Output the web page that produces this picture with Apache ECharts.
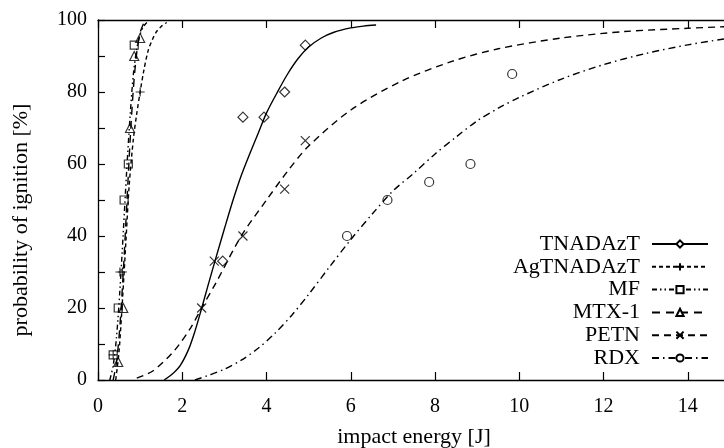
<!DOCTYPE html>
<html>
<head>
<meta charset="utf-8">
<script src="https://cdn.jsdelivr.net/npm/echarts@6/dist/echarts.min.js"></script>
<style>
  html, body { margin: 0; padding: 0; background: #fff; }
  #chart { width: 724px; height: 448px; }
</style>
</head>
<body>
<div id="chart"></div>
<script>
// Measured drop-test points: impact energy [J] vs probability of ignition [%]
const tnadaztE = [2.96, 3.44, 3.94, 4.43, 4.92];
const tnadaztP = [33, 73, 73, 80, 93];
const agTnadaztE = [0.36, 0.52, 0.58, 1.0];
const agTnadaztP = [7, 30, 30, 80];
const mfE = [0.36, 0.48, 0.62, 0.72, 0.86];
const mfP = [7, 20, 50, 60, 93];
const mtxE = [0.48, 0.6, 0.76, 0.86, 1.0];
const mtxP = [5, 20, 70, 90, 95];
const petnE = [2.46, 2.76, 3.44, 4.43, 4.92];
const petnP = [20, 33, 40, 53, 66.5];
const rdxE = [5.91, 6.87, 7.86, 8.84, 9.83];
const rdxP = [40, 50, 55, 60, 85];

// Fitted ignition-probability curves, sampled along each line
const tnadaztFitE = [1.57, 1.75, 1.95, 2.15, 2.3, 2.45, 2.6, 2.8, 3.0, 3.2, 3.4, 3.6, 3.8, 4.0, 4.25, 4.5, 4.75, 5.0, 5.3, 5.6, 6.0, 6.3, 6.6];
const tnadaztFitP = [0, 1.5, 4, 8.5, 13.5, 19.5, 25.8, 34, 42, 49.8, 56.8, 62.8, 68.5, 74.2, 79.8, 85, 89.3, 92.5, 95, 96.6, 97.8, 98.3, 98.6];
const agTnadaztFitE = [0.42, 0.5, 0.58, 0.66, 0.74, 0.84, 0.92, 1.0, 1.08, 1.19, 1.3, 1.39, 1.5, 1.63];
const agTnadaztFitP = [0, 8, 22, 38, 54, 67, 74, 80, 85.5, 91.5, 94.8, 96.8, 98.2, 99.3];
const mfFitE = [0.28, 0.36, 0.44, 0.52, 0.6, 0.68, 0.76, 0.84, 0.92, 1.0, 1.08, 1.16];
const mfFitP = [0, 4, 12, 25, 41, 58, 73, 85, 92, 96, 98.2, 99.3];
const mtxFitE = [0.36, 0.44, 0.52, 0.6, 0.68, 0.76, 0.84, 0.92, 1.0, 1.08];
const mtxFitP = [0, 5, 15, 30, 48, 66, 81, 91, 96.5, 99];
const petnFitE = [0.92, 1.3, 1.8, 2.2, 2.46, 2.8, 3.4, 4.0, 4.5, 5.0, 6.0, 7.2, 8.4, 9.5, 11, 12.5, 14, 15];
const petnFitP = [0.5, 2.5, 8, 14.5, 20, 27, 40, 50, 58, 65, 75, 83, 88.5, 92, 95, 96.8, 97.7, 98.2];
const rdxFitE = [2.3, 2.6, 3.0, 3.4, 3.8, 4.2, 4.6, 5.0, 5.5, 6.0, 6.5, 7.0, 7.5, 8.0, 8.5, 9.0, 9.5, 10, 11, 12, 13, 14, 15];
const rdxFitP = [0, 1.2, 3, 5.5, 8.8, 13, 18, 23.8, 31.5, 39, 46, 52.5, 57.5, 62.8, 67.5, 72, 75.5, 78.5, 83.6, 87.6, 90.7, 93.1, 95];

// Axis tick values
const xTicks = [0, 2, 4, 6, 8, 10, 12, 14];
const yTicks = [0, 20, 40, 60, 80, 100];

const seriesNames = ['TNADAzT', 'AgTNADAzT', 'MF', 'MTX-1', 'PETN', 'RDX'];

const zip = (xs, ys) => xs.map((x, i) => [x, ys[i]]);

const FONT = '"Liberation Serif", "DejaVu Serif", serif';
const INK = '#000';

const PLUS = 'path://M0,5L10,5M5,0L5,10';
const CROSS = 'path://M0,0L10,10M0,10L10,0';

const styles = {
  'TNADAzT':   { symbol: 'diamond',  size: 10, dash: 'solid' },
  'AgTNADAzT': { symbol: PLUS,       size: 9,  dash: [4, 3] },
  'MF':        { symbol: 'rect',     size: 8,  dash: [5, 3, 1.5, 3, 1.5, 3] },
  'MTX-1':     { symbol: 'triangle', size: 9,  dash: [8, 6] },
  'PETN':      { symbol: CROSS,      size: 9,  dash: [7, 5] },
  'RDX':       { symbol: 'circle',   size: 9,  dash: [7, 4, 1.5, 4] }
};

const fits = {
  'TNADAzT': zip(tnadaztFitE, tnadaztFitP),
  'AgTNADAzT': zip(agTnadaztFitE, agTnadaztFitP),
  'MF': zip(mfFitE, mfFitP),
  'MTX-1': zip(mtxFitE, mtxFitP),
  'PETN': zip(petnFitE, petnFitP),
  'RDX': zip(rdxFitE, rdxFitP)
};
const points = {
  'TNADAzT': zip(tnadaztE, tnadaztP),
  'AgTNADAzT': zip(agTnadaztE, agTnadaztP),
  'MF': zip(mfE, mfP),
  'MTX-1': zip(mtxE, mtxP),
  'PETN': zip(petnE, petnP),
  'RDX': zip(rdxE, rdxP)
};

const markerStyle = { color: '#fff', borderColor: INK, borderWidth: 1.2 };

const series = [];
// curves first so the legend icon shows line + marker
seriesNames.forEach(name => {
  const st = styles[name];
  series.push({
    name, type: 'line', data: fits[name], smooth: 0.3,
    showSymbol: false, symbol: st.symbol, symbolSize: st.size,
    lineStyle: { color: INK, width: 1.4, type: st.dash },
    itemStyle: markerStyle,
    silent: true, z: 2
  });
});
seriesNames.forEach(name => {
  const st = styles[name];
  series.push({
    name, type: 'scatter', data: points[name],
    symbol: st.symbol, symbolSize: st.size,
    itemStyle: { color: 'rgba(0,0,0,0)', borderColor: INK, borderWidth: 1.2 },
    silent: true, z: 3
  });
});

const chart = echarts.init(document.getElementById('chart'), null, { renderer: 'canvas' });
chart.setOption({
  animation: false,
  backgroundColor: '#fff',
  grid: { left: 98, right: -6, top: 20, bottom: 68, outerBoundsMode: 'none', containLabel: false },
  legend: {
    data: seriesNames,
    orient: 'vertical',
    right: 10, top: 228,
    align: 'right',
    itemWidth: 56, itemHeight: 9, itemGap: 0.8,
    textStyle: { fontFamily: FONT, fontSize: 22, color: INK, lineHeight: 22, padding: [0, 7, 0, 0] },
    selectedMode: false
  },
  xAxis: [{
    type: 'value', min: 0, max: 15, interval: 2,
    name: 'impact energy [J]', nameLocation: 'middle', nameGap: 46,
    nameTextStyle: { fontFamily: FONT, fontSize: 22, color: INK },
    axisLine: { show: true, onZero: false, lineStyle: { color: INK, width: 1.3 } },
    axisTick: { show: true, inside: true, length: 8, lineStyle: { color: INK, width: 1.2 } },
    axisLabel: {
      fontFamily: FONT, fontSize: 20, color: INK, margin: 17, showMaxLabel: false,
      formatter: v => (xTicks.includes(v) ? String(v) : '')
    },
    splitLine: { show: false }
  }, {
    type: 'value', min: 0, max: 15, interval: 2, position: 'top',
    axisLine: { show: true, onZero: false, lineStyle: { color: INK, width: 1.3 } },
    axisTick: { show: true, inside: true, length: 8, lineStyle: { color: INK, width: 1.2 } },
    axisLabel: { show: false },
    splitLine: { show: false }
  }],
  yAxis: {
    type: 'value', min: 0, max: 100, interval: 10,
    name: 'probability of ignition [%]', nameLocation: 'middle', nameGap: 66,
    nameTextStyle: { fontFamily: FONT, fontSize: 22, color: INK, padding: [0, 40, 0, 0] },
    axisLine: { show: true, onZero: false, lineStyle: { color: INK, width: 1.3 } },
    axisTick: { show: true, inside: true, length: 7, lineStyle: { color: INK, width: 1.2 } },
    axisLabel: {
      fontFamily: FONT, fontSize: 20, color: INK, margin: 11,
      formatter: v => (yTicks.includes(v) ? String(v) : '')
    },
    splitLine: { show: false }
  },
  series
});
</script>
</body>
</html>
